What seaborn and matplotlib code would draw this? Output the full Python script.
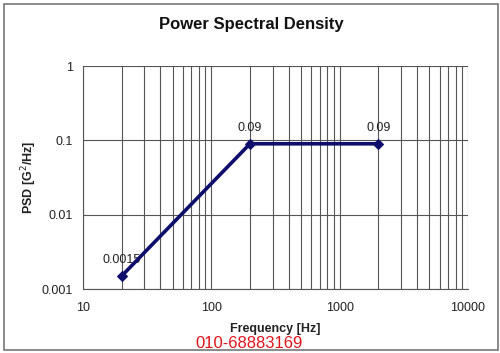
import matplotlib
matplotlib.use("Agg")
import matplotlib.pyplot as plt
import seaborn as sns
import pandas as pd
from matplotlib.ticker import LogLocator, FixedLocator, NullFormatter
from matplotlib.patches import Rectangle

freq = [20, 200, 2000]
psd = [0.0015, 0.09, 0.09]
point_labels = ["0.0015", "0.09", "0.09"]
x_ticks = [10, 100, 1000, 10000]
x_tick_labels = ["10", "100", "1000", "10000"]
y_ticks = [0.001, 0.01, 0.1, 1]
y_tick_labels = ["0.001", "0.01", "0.1", "1"]

sns.set_style("white")
plt.rcParams['font.family'] = ['Liberation Sans', 'DejaVu Sans']

df = pd.DataFrame({"Frequency": freq, "PSD": psd})

fig = plt.figure(figsize=(5.0, 3.53), dpi=100)
ax = fig.add_axes([0.166, 0.181, 0.770, 0.632])

ax.set_xscale("log")
ax.set_yscale("log")
ax.set_xlim(10, 10000)
ax.set_ylim(0.001, 1)

sns.lineplot(data=df, x="Frequency", y="PSD", ax=ax, color="#0d0d6b", lw=2.6,
             marker="D", markersize=5, markeredgecolor="#0d0d6b", zorder=5)

for x, y, t in zip(freq, psd, point_labels):
    ax.annotate(t, (x, y), xytext=(0, 7), textcoords="offset points",
                ha="center", va="bottom", fontsize=9, color="#222222")

ax.xaxis.set_major_locator(FixedLocator(x_ticks))
ax.set_xticklabels(x_tick_labels)
ax.xaxis.set_minor_locator(LogLocator(base=10, subs=range(2, 10)))
ax.xaxis.set_minor_formatter(NullFormatter())
ax.yaxis.set_major_locator(FixedLocator(y_ticks))
ax.set_yticklabels(y_tick_labels)
ax.yaxis.set_minor_locator(FixedLocator([]))

ax.grid(True, which="major", axis="both", color="#555555", lw=0.8)
ax.grid(True, which="minor", axis="x", color="#555555", lw=0.8)

for s in ["top", "right"]:
    ax.spines[s].set_visible(False)
for s in ["left", "bottom"]:
    ax.spines[s].set_color("#555555")
    ax.spines[s].set_linewidth(0.8)

ax.tick_params(axis="y", which="major", length=4, width=0.8, color="#555555",
               labelsize=9, labelcolor="#222222", direction="out", pad=3)
ax.tick_params(axis="x", which="major", length=6, width=0.8, color="#555555",
               labelsize=9, labelcolor="#222222", direction="inout", pad=6)
ax.tick_params(axis="x", which="minor", length=0)

ax.set_xlabel("Frequency [Hz]", fontsize=9, fontweight="bold", color="#222222")
ax.xaxis.set_label_coords(0.5, -0.15)
ax.set_ylabel("PSD [G$^2$/Hz]", fontsize=9, fontweight="bold", color="#222222")
ax.yaxis.set_label_coords(-0.115, 0.5)

fig.text(0.502, 0.932, "Power Spectral Density", ha="center", va="center",
         fontsize=12, fontweight="bold", color="#111111")

fig.patches.append(Rectangle((0.008, 0.008), 0.988, 0.98, transform=fig.transFigure,
                             fill=False, edgecolor="#777777", lw=1.2))

fig.text(0.498, 0.028, "010-68883169", ha="center", va="center",
         fontsize=12, color="#e0151b")

fig.savefig("out.png", dpi=100)
